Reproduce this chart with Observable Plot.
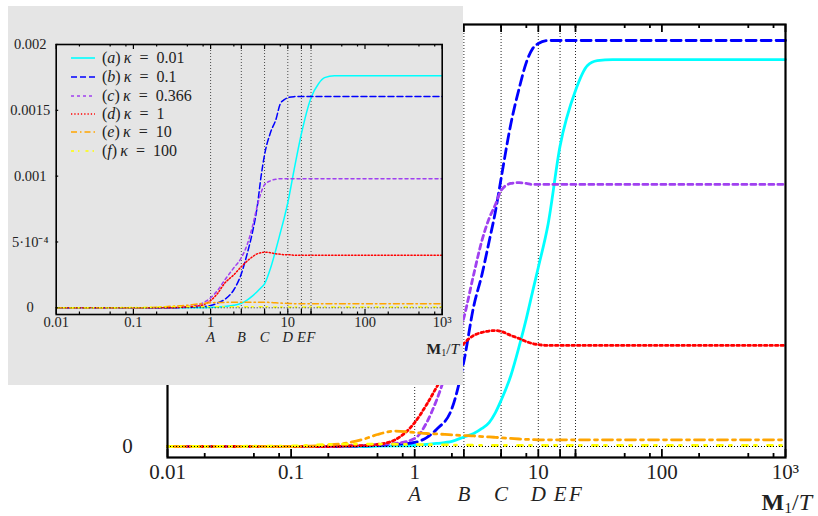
<!DOCTYPE html>
<html><head><meta charset="utf-8">
<script src="https://cdn.jsdelivr.net/npm/d3@7"></script>
<script src="https://cdn.jsdelivr.net/npm/@observablehq/plot@0.6"></script>
<style>
body{margin:0;background:#fff;}
#wrap{position:relative;width:818px;height:516px;overflow:hidden;font-family:"Liberation Serif",serif;color:#222;}
#main{position:absolute;left:0;top:0;width:818px;height:516px;}
#inset{position:absolute;left:8px;top:6px;width:455px;height:379px;background:#e5e5e5;}
#inset > svg, #main > svg{position:absolute;left:0;top:0;max-width:none !important;}
.lab{position:absolute;white-space:nowrap;color:#222;line-height:1;}
.lab sub{font-size:0.65em;vertical-align:-0.2em;line-height:0;}
.leg{position:absolute;white-space:nowrap;font-size:16px;line-height:1;color:#222;}
</style></head><body><div id="wrap"><div id="main"></div><div id="inset"></div></div>
<script>
// ---------------- data ----------------
const xs = [0.01, 0.1, 0.2, 0.3, 0.4, 0.5, 0.7, 1, 1.25, 1.5, 2, 2.5, 3, 3.5, 4, 4.5, 5, 6, 7, 8, 9, 10, 12, 15, 20, 25, 30, 40, 50, 100, 1000];

const seriesLetters = ["a", "b", "c", "d", "e", "f"];
const kappaValues = ["0.01", "0.1", "0.366", "1", "10", "100"];

// main (large) chart
const mainA = [0,0,0,0,0,0.0000015,0.000003,0.000005,0.00001,0.000015,0.000025,0.000047,0.000064,0.000089,0.000118,0.000167,0.000227,0.00035,0.000493,0.00063,0.000764,0.000882,0.001095,0.00148,0.001754,0.001877,0.001901,0.001906,0.001906,0.001906,0.001906];
const mainB = [0,0,0,0.0000015,0.000003,0.000005,0.00001,0.00002,0.000044,0.000084,0.000187,0.000419,0.00069,0.000847,0.00101,0.001158,0.00132,0.00159,0.001764,0.001892,0.00196,0.001985,0.002,0.002,0.002,0.002,0.002,0.002,0.002,0.002,0.002];
const mainC = [0,0,0,0.0000025,0.000005,0.00001,0.000015,0.000039,0.000118,0.000227,0.000453,0.000635,0.000847,0.001015,0.001123,0.001192,0.001261,0.001296,0.0013,0.001296,0.001291,0.001291,0.001291,0.001291,0.001291,0.001291,0.001291,0.001291,0.001291,0.001291,0.001291];
const mainD = [0,0,0,0.0000025,0.000005,0.00001,0.000034,0.000118,0.000207,0.000291,0.000424,0.000507,0.000547,0.000562,0.000569,0.000571,0.000567,0.000547,0.000532,0.000517,0.000507,0.000502,0.000498,0.000498,0.000498,0.000498,0.000498,0.000498,0.000498,0.000498,0.000498];
const mainE = [0,0,0.0000074,0.00002,0.000039,0.000059,0.000076,0.000069,0.000064,0.000062,0.000057,0.000054,0.000052,0.000049,0.000047,0.000045,0.000043,0.00004,0.000037,0.000035,0.000034,0.000033,0.000033,0.000033,0.000033,0.000033,0.000033,0.000033,0.000033,0.000033,0.000033];
const mainF = [0,0.0000025,0.00001,0.000012,0.000012,0.000012,0.000011,0.00001,0.000009,0.000008,0.0000074,0.0000064,0.000006,0.0000055,0.000005,0.000005,0.000005,0.000005,0.000005,0.000005,0.000005,0.000005,0.000005,0.000005,0.000005,0.000005,0.000005,0.000005,0.000005,0.000005,0.000005];

// inset chart
const insetA = [0,0,0,0,0,0,0,0.000003,0.000006,0.00001,0.000019,0.000035,0.000061,0.000091,0.000122,0.000152,0.000182,0.000304,0.000441,0.00057,0.000684,0.000798,0.001041,0.001322,0.001596,0.001702,0.001748,0.001763,0.001763,0.001763,0.001763];
const insetB = [0,0,0,0,0.000002,0.000004,0.000008,0.000017,0.000038,0.000061,0.000137,0.000258,0.000418,0.000578,0.00076,0.000996,0.001163,0.001335,0.001429,0.00155,0.001581,0.001596,0.001604,0.001605,0.001605,0.001605,0.001605,0.001605,0.001605,0.001605,0.001605];
const insetC = [0,0,0,0,0.000004,0.000008,0.000023,0.000076,0.000137,0.000205,0.000304,0.00038,0.000486,0.000623,0.000768,0.000874,0.000935,0.000965,0.000977,0.00098,0.00098,0.00098,0.00098,0.00098,0.00098,0.00098,0.00098,0.00098,0.00098,0.00098,0.00098];
const insetD = [0,0,0,0,0.000004,0.000008,0.000015,0.000055,0.000114,0.000182,0.000251,0.000312,0.000357,0.000388,0.00041,0.000418,0.000423,0.000418,0.00041,0.000407,0.000403,0.000403,0.0004,0.0004,0.0004,0.0004,0.0004,0.0004,0.0004,0.0004,0.0004];
const insetE = [0,0,0.000004,0.000011,0.000015,0.000019,0.00003,0.000038,0.00004,0.000041,0.000042,0.000042,0.000043,0.000043,0.000043,0.000043,0.000043,0.00004,0.000038,0.000036,0.000034,0.000033,0.000031,0.00003,0.00003,0.00003,0.00003,0.00003,0.00003,0.00003,0.00003];
const insetF = [0,0.000002,0.000005,0.000007,0.000008,0.000008,0.000008,0.000008,0.000008,0.000008,0.000008,0.000008,0.000008,0.000008,0.000008,0.000008,0.000008,0.000007,0.000007,0.000007,0.000007,0.000007,0.000007,0.000007,0.000007,0.000007,0.000007,0.000007,0.000007,0.000007,0.000007];

const markerLabels = ["A", "B", "C", "D", "E", "F"];
const markerValues = [1, 2.5, 5, 10, 15, 20];
const xTickValues = [0.01, 0.1, 1, 10, 100, 1000];
const xTickLabels = ["0.01", "0.1", "1", "10", "100", "10\u00B3"];
const xMinorTicks = [0.02, 0.05, 0.08, 0.2, 0.5, 0.8, 2, 5, 8, 20, 50, 80, 200, 500, 800];
const insetYTickValues = [0, 0.0005, 0.001, 0.0015, 0.002];
const insetYTickLabels = ["0", "5\u00B710\u207B\u2074", "0.001", "0.0015", "0.002"];
const mainYTickValues = [0];
const mainYTickLabels = ["0"];

// ---------------- styles ----------------
const colors = ["#00ffff", "#0000ff", "#a040f0", "#ff0000", "#ffa500", "#ffff00"];
const mainDash = [null, "10,5", "5,4", "2.5,3", "10,5,3,5", "5,7,2,11"];
const insetDash = [null, "6,3", "3,3", "1.3,2", "6,3,1.5,3", "3,4,1.5,6"];

const mainSeries = [mainA, mainB, mainC, mainD, mainE, mainF];
const insetSeries = [insetA, insetB, insetC, insetD, insetE, insetF];

function lineMarks(series, dashes, w) {
  return series.map((ys, k) => Plot.line(xs, {
    x: d => d, y: (d, i) => ys[i], stroke: colors[k], strokeWidth: w,
    strokeDasharray: dashes[k], curve: "monotone-x"
  }));
}

const majorTicks = Array.from(new Set([...xTickValues, ...markerValues]));

function buildPlot(cfg) {
  const innerH = cfg.height - cfg.mt - cfg.mb;
  return Plot.plot({
    width: cfg.width, height: cfg.height,
    marginLeft: cfg.ml, marginRight: cfg.mr, marginTop: cfg.mt, marginBottom: cfg.mb,
    style: {fontFamily: "'Liberation Serif', serif", fontSize: cfg.fs + "px", background: "transparent", overflow: "visible", color: "#222", maxWidth: "none"},
    x: {type: "log", domain: [0.01, 1000], axis: null},
    y: {domain: cfg.ydomain, axis: null},
    marks: [
      Plot.ruleX(markerValues, {x: d => d, stroke: "#000", strokeWidth: cfg.rw, strokeDasharray: "1,2", strokeOpacity: 0.85}),
      ...lineMarks(cfg.series, cfg.dashes, cfg.lw),
      Plot.ruleY([0], {y: d => d, stroke: "#000", strokeWidth: cfg.rw, strokeDasharray: "1,2"}),
      Plot.tickX(xMinorTicks, {x: d => d, insetTop: innerH - cfg.tMinor, stroke: "#000", strokeWidth: cfg.tw}),
      Plot.tickX(majorTicks, {x: d => d, insetTop: innerH - cfg.tMajor, stroke: "#000", strokeWidth: cfg.tw}),
      Plot.tickX(xMinorTicks, {x: d => d, insetBottom: innerH - cfg.tMinor, stroke: "#000", strokeWidth: cfg.tw}),
      Plot.tickX(majorTicks, {x: d => d, insetBottom: innerH - cfg.tMajor, stroke: "#000", strokeWidth: cfg.tw}),
      cfg.yticks ? Plot.tickY(cfg.yticks, {y: d => d, insetRight: (cfg.width - cfg.ml - cfg.mr) - cfg.tMinor, stroke: "#000", strokeWidth: cfg.tw}) : null,
      Plot.frame({stroke: "#000", strokeWidth: cfg.fw}),
      Plot.text(xTickValues, {x: d => d, text: (d, i) => cfg.xLabels[i], frameAnchor: "bottom", dy: cfg.dyTick, fill: "#222"}),
      Plot.text(markerValues, {x: d => d, text: (d, i) => markerLabels[i], frameAnchor: "bottom", dy: cfg.dyLetter, fontStyle: "italic", fill: "#222"}),
      Plot.text(cfg.yLabelValues, {y: d => d, text: (d, i) => cfg.yLabels[i], frameAnchor: "left", dx: cfg.dxY, textAnchor: "middle", fill: "#222"})
    ].filter(Boolean)
  });
}

const mainPlot = buildPlot({
  width: 818, height: 516, ml: 167, mr: 33, mt: 24, mb: 59, fs: 21,
  ydomain: [-0.0000542, 0.0020788], series: mainSeries, dashes: mainDash, lw: 2.8,
  rw: 1, tw: 1.8, fw: 2.2, tMinor: 4, tMajor: 8, dyTick: 21, dyLetter: 43,
  xLabels: xTickLabels, yLabelValues: mainYTickValues, yLabels: mainYTickLabels, dxY: -40, yticks: null
});
document.getElementById("main").appendChild(mainPlot);

const insetPlot = buildPlot({
  width: 455, height: 379, ml: 47.7, mr: 21.3, mt: 38, mb: 71, fs: 14.5,
  ydomain: [-0.0000509, 0.002], series: insetSeries, dashes: insetDash, lw: 1.5,
  rw: 0.8, tw: 1.2, fw: 1.6, tMinor: 2.5, tMajor: 5, dyTick: 12.5, dyLetter: 27.5,
  xLabels: xTickLabels, yLabelValues: insetYTickValues, yLabels: insetYTickLabels, dxY: -26, yticks: insetYTickValues
});
document.getElementById("inset").appendChild(insetPlot);

// axis titles M1/T
function addTitle(parent, right, top, fs) {
  const d = document.createElement("div");
  d.className = "lab";
  d.style.right = right + "px"; d.style.top = top + "px"; d.style.fontSize = fs + "px";
  d.innerHTML = "<b>M</b><sub>1</sub>/<i>T</i>&nbsp;";
  parent.appendChild(d);
}
addTitle(document.getElementById("wrap"), 0, 490, 24);
addTitle(document.getElementById("inset"), 0, 335, 15.5);

// legend in inset
const inset = d3.select("#inset");
const rowY = [52, 71, 90, 108, 126, 145];
seriesLetters.forEach((s, k) => {
  const svg = inset.append("svg").attr("width", 26).attr("height", 6)
    .style("position", "absolute").style("left", "62px").style("top", (rowY[k] - 3) + "px");
  svg.append("line").attr("x1", 1).attr("x2", 25).attr("y1", 3).attr("y2", 3)
    .attr("stroke", colors[k]).attr("stroke-width", 1.6)
    .attr("stroke-dasharray", insetDash[k]);
  inset.append("div").attr("class", "leg")
    .style("left", "94px").style("top", (rowY[k] - 8) + "px")
    .html(`(<i>${s}</i>)&thinsp;<i>&kappa;</i>&ensp;=&ensp;${kappaValues[k]}`);
});
</script></body></html>
